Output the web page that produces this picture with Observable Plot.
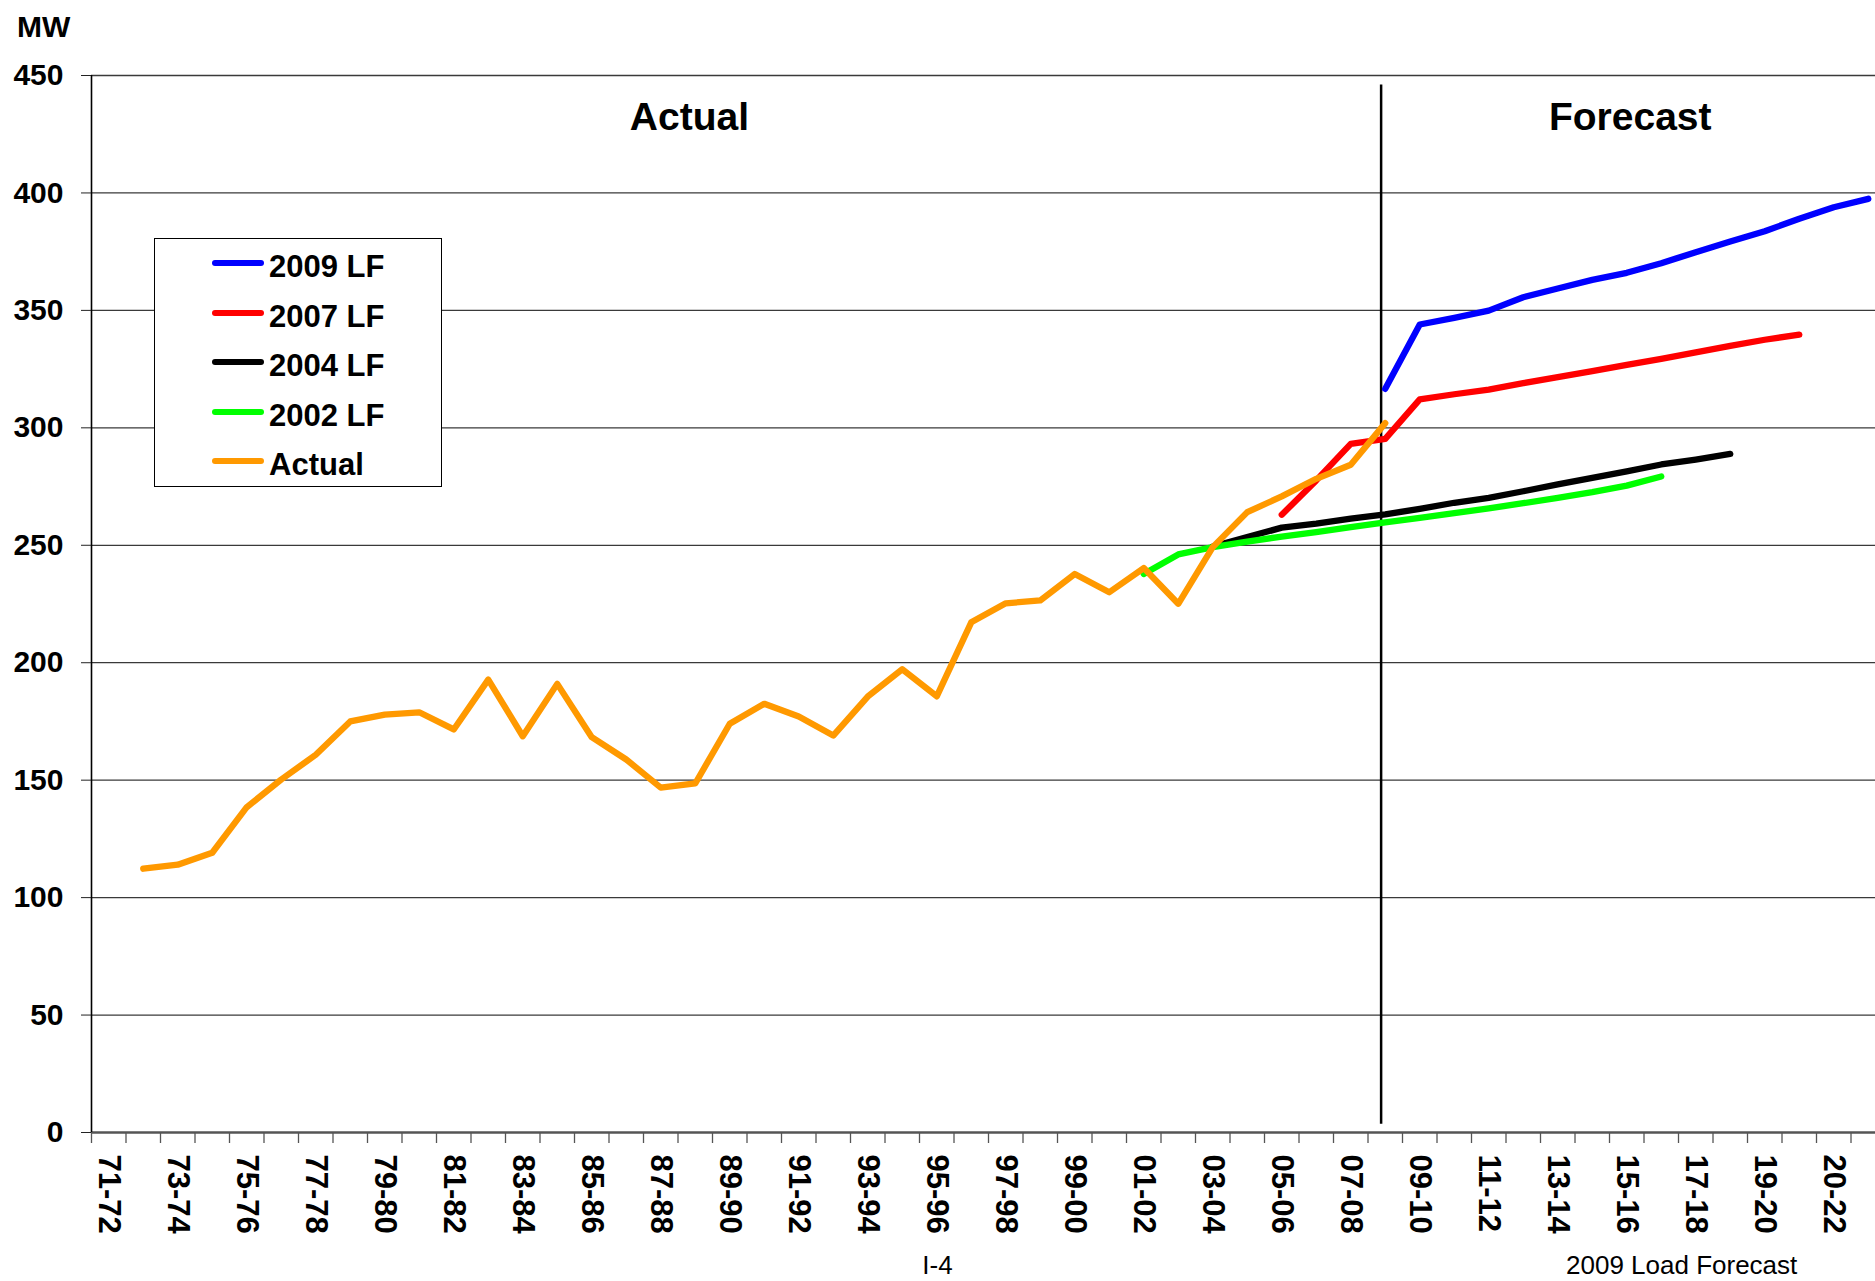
<!DOCTYPE html>
<html>
<head>
<meta charset="utf-8">
<script src="https://cdn.jsdelivr.net/npm/d3@7"></script>
<script src="https://cdn.jsdelivr.net/npm/@observablehq/plot@0.6"></script>
<style>
  html, body { margin: 0; padding: 0; background: #fff; }
  body { font-family: "Liberation Sans", Arial, Helvetica, sans-serif; }
  #wrap { position: relative; width: 1875px; height: 1281px; overflow: hidden; background: #fff; }
  #chart { position: absolute; left: 0; top: 0; }
  .abs { position: absolute; line-height: 1; white-space: nowrap; }
  .mw { left: 17px; top: 12px; font-size: 30px; font-weight: bold; }
  .legend { position: absolute; left: 154px; top: 238px; width: 286px; height: 247px; border: 1.5px solid #000; background: #fff; }
  .sw { position: absolute; left: 57px; width: 52px; height: 6px; border-radius: 3px; }
  .lab { position: absolute; left: 114px; font-size: 31px; font-weight: bold; line-height: 1; transform: translateY(-50%); }
  .foot { font-size: 26px; top: 1251px; line-height: 28px; }
</style>
</head>
<body>
<div id="wrap">
  <div id="chart"></div>
  <div class="abs mw">MW</div>
  <div class="legend" id="legend"></div>
  <div class="abs foot" style="left:937.5px; transform: translateX(-50%);">I-4</div>
  <div class="abs foot" style="left:1566px;">2009 Load Forecast</div>
</div>
<script>
// ---- Data ----
const categories = ["71-72","72-73","73-74","74-75","75-76","76-77","77-78","78-79","79-80","80-81",
  "81-82","82-83","83-84","84-85","85-86","86-87","87-88","88-89","89-90","90-91",
  "91-92","92-93","93-94","94-95","95-96","96-97","97-98","98-99","99-00","00-01",
  "01-02","02-03","03-04","04-05","05-06","06-07","07-08","08-09","09-10","10-11",
  "11-12","12-13","13-14","14-15","15-16","16-17","17-18","18-19","19-20","20-21",
  "21-22","22-23"];

// x tick labels, shown at every second category starting with the first
const tickLabels = ["71-72","73-74","75-76","77-78","79-80","81-82","83-84","85-86","87-88","89-90",
  "91-92","93-94","95-96","97-98","99-00","01-02","03-04","05-06","07-08","09-10",
  "11-12","13-14","15-16","17-18","19-20","20-22"];

const yTicks = [0, 50, 100, 150, 200, 250, 300, 350, 400, 450];

const actualStart = "72-73";
const actual = [112.3, 114.0, 119.1, 138.5, 150.3, 160.8, 175.0, 177.9, 178.9, 171.6,
  192.8, 168.7, 191.0, 168.3, 158.8, 146.8, 148.6, 174.0, 182.5, 177.1,
  169.0, 185.6, 197.2, 185.7, 217.2, 225.3, 226.5, 237.8, 230.0, 240.3,
  225.1, 249.2, 264.1, 270.8, 278.3, 284.3, 302.0];

const lf2002Start = "01-02";
const lf2002 = [237.8, 246.1, 249.2, 251.6, 253.7, 255.6, 257.7, 259.7, 261.7, 263.7,
  265.7, 267.9, 270.2, 272.6, 275.4, 279.3];

const lf2004Start = "03-04";
const lf2004 = [249.5, 253.5, 257.5, 259.2, 261.3, 263.2, 265.5, 268.1, 270.2, 273.0,
  275.9, 278.7, 281.5, 284.4, 286.5, 288.9];

const lf2007Start = "05-06";
const lf2007 = [263.0, 277.6, 293.2, 295.3, 312.1, 314.3, 316.3, 319.0, 321.6, 324.1,
  326.8, 329.4, 332.1, 334.9, 337.5, 339.7];

const lf2009Start = "08-09";
const lf2009 = [316.6, 344.0, 346.8, 349.9, 355.6, 359.3, 363.0, 366.0, 370.1, 374.8,
  379.3, 383.7, 389.0, 393.9, 397.5];

const seriesNames = ["2009 LF", "2007 LF", "2004 LF", "2002 LF", "Actual"];
const seriesColors = ["#0000ff", "#ff0000", "#000000", "#00ff00", "#ff9900"];

// annotation text (x in category units, y in MW)
const regionLabels = [
  {label: "Actual", pos: 17.33, mw: 432},
  {label: "Forecast", pos: 44.6, mw: 432}
];
const dividerPos = 37.38;   // boundary between actual and forecast
const dividerSpan = [3.5, 446];

// visible width of the category axis (chart is cut off on the right)
const visibleSpan = 51.71;

// ---- Build ----
function toPoints(start, values) {
  const s = categories.indexOf(start);
  return values.map((v, k) => ({pos: s + k + 0.5, mw: v}));
}
const seriesData = [
  toPoints(lf2009Start, lf2009),
  toPoints(lf2007Start, lf2007),
  toPoints(lf2004Start, lf2004),
  toPoints(lf2002Start, lf2002),
  toPoints(actualStart, actual)
];
const boundaries = d3.range(0, categories.length + 1);

const lineMarks = seriesData.map((pts, k) => Plot.line(pts, {
  x: "pos", y: "mw", stroke: seriesColors[k], strokeWidth: 6.3,
  strokeLinecap: "round", strokeLinejoin: "round"
}));

const chart = Plot.plot({
  width: 1875,
  height: 1281,
  marginLeft: 91,
  marginRight: 0,
  marginTop: 75,
  marginBottom: 149,
  style: {fontFamily: '"Liberation Sans", Arial, sans-serif', fontWeight: "bold", background: "#fff", color: "#000"},
  x: {type: "linear", domain: [0, visibleSpan], axis: null, label: null},
  y: {domain: [0, 450], axis: null, label: null},
  marks: [
    Plot.gridY(yTicks.slice(1), {stroke: "#3a3a3a", strokeOpacity: 1, strokeWidth: 1.3}),
    Plot.ruleY([0], {stroke: "#555", strokeWidth: 2.5}),
    Plot.axisX(boundaries, {tickSize: 11, tickFormat: () => "", stroke: "#555", strokeWidth: 1.3, label: null}),
    Plot.ruleX([0], {stroke: "#000", strokeWidth: 1.6}),
    Plot.axisY(yTicks, {tickSize: 10, tickPadding: 18, fontSize: 30, fontWeight: "bold", stroke: "#222", label: null}),
    Plot.text(tickLabels, {
      x: (d, i) => i * 2 + 0.5, frameAnchor: "bottom", rotate: 90,
      textAnchor: "start", lineAnchor: "middle", dy: 22,
      fontSize: 31, fontWeight: "bold", fill: "#000"
    }),
    Plot.ruleX([dividerPos], {y1: dividerSpan[0], y2: dividerSpan[1], stroke: "#000", strokeWidth: 2.5}),
    ...lineMarks,
    Plot.text(regionLabels, {x: "pos", y: "mw", text: "label", fontSize: 39, fontWeight: "bold", fill: "#000"})
  ]
});
document.getElementById("chart").appendChild(chart);

// ---- Legend ----
const legend = document.getElementById("legend");
seriesNames.forEach((name, k) => {
  const cy = 24 + k * 49.5;
  const sw = document.createElement("div");
  sw.className = "sw";
  sw.style.top = (cy - 3) + "px";
  sw.style.background = seriesColors[k];
  legend.appendChild(sw);
  const lab = document.createElement("div");
  lab.className = "lab";
  lab.style.top = (cy + 3) + "px";
  lab.textContent = name;
  legend.appendChild(lab);
});
</script>
</body>
</html>
